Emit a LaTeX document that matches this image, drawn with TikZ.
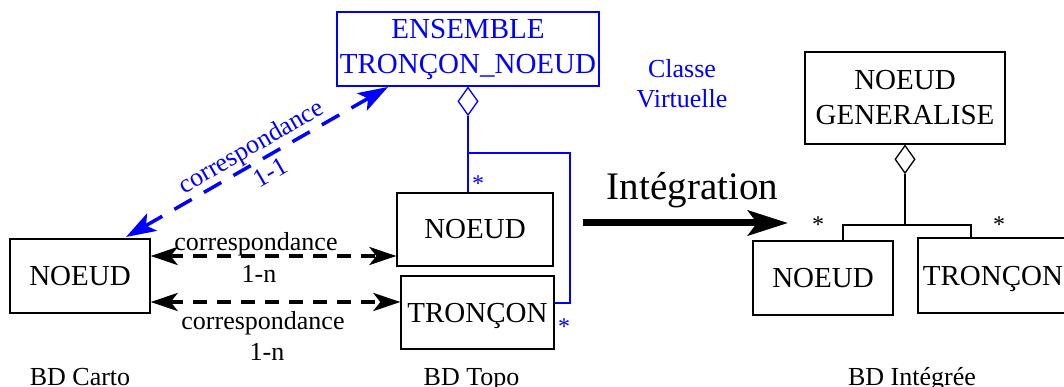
\documentclass[tikz,border=0pt]{standalone}
\usepackage{fontspec}
\setmainfont{Liberation Serif}
\usetikzlibrary{arrows.meta,shapes.geometric}
\begin{document}
\begin{tikzpicture}[x=1pt,y=-1pt,
  box/.style={draw, line width=1.3pt, inner sep=0pt, align=center, font=\fontsize{29}{35}\selectfont},
  bluebox/.style={box, draw=blue, text=blue},
  agg/.style={diamond, draw, fill=white, line width=1.3pt, minimum width=20pt, minimum height=28pt, inner sep=0pt},
  lbl/.style={inner sep=0pt, anchor=base, font=\fontsize{26}{30}\selectfont},
  astk/.style={inner sep=0pt, anchor=base, font=\fontsize{24}{28}\selectfont},
  link/.style={line width=1.3pt},
  bluelink/.style={line width=1.3pt, draw=blue},
  dashar/.style={line width=4pt, dash pattern=on 14pt off 10pt, {Stealth[length=27pt,width=18pt,inset=7pt]}-{Stealth[length=27pt,width=18pt,inset=7pt]}},
  bluedash/.style={draw=blue, line width=3.5pt, dash pattern=on 20pt off 14pt, {Stealth[length=30pt,width=20pt,inset=7pt]}-{Stealth[length=30pt,width=20pt,inset=7pt]}}
]
\useasboundingbox (0,0) rectangle (1064,387);
\clip (0,0) rectangle (1064,387);

% BD Carto
\node[box, minimum width=140pt, minimum height=74pt] (cN) at (80,276) {NOEUD};

% BD Topo
\node[box, minimum width=156pt, minimum height=73pt] (tN) at (475,229.5) {NOEUD};
\node[box, minimum width=153pt, minimum height=73pt, text depth=0pt] (tT) at (477.5,312.5) {TRONÇON};
\node[bluebox, minimum width=262pt, minimum height=74pt] (ens) at (468,49) {ENSEMBLE\\TRONÇON\_NOEUD};
\node[agg, draw=blue, anchor=north] (eD) at (ens.south) {};
\coordinate (bJ) at (570,153);
\coordinate (bK) at (570,303);
\draw[bluelink] (eD.south) -- (eD.south |- tN.north);
\draw[bluelink] (eD.south |- bJ) -- (bJ) -- (bK) -- (tT.east |- bK);
\node[astk, text=blue] (s1) at (478,192) {*};
\node[astk, text=blue] (s2) at (564,334) {*};

\node[lbl, text=blue] (cv1) at (682,78) {Classe};
\node[lbl, text=blue] (cv2) at (682,108) {Virtuelle};

% correspondances
\draw[dashar] ([yshift=20pt]cN.east) -- ([yshift=-26.5pt]tN.west);
\draw[dashar] ([yshift=-26pt]cN.east) -- ([yshift=10.5pt]tT.west);
\node[lbl] (l1) at (256,250) {correspondance};
\node[lbl] (l2) at (259,282) {1-n};
\node[lbl] (l3) at (263,329) {correspondance};
\node[lbl] (l4) at (267,360) {1-n};

\coordinate (bA) at (126,237);
\coordinate (bB) at (388,87);
\draw[bluedash] (bA) -- (bB);
\node[lbl, text=blue, rotate=30, anchor=center] (l5) at (252,148) {correspondance};
\node[lbl, text=blue, rotate=30, anchor=center] (l6) at (270,172) {1-1};

% Integration
\coordinate (aS) at (583,223);
\coordinate (aE) at (788,223);
\draw[line width=7pt, -{Stealth[length=40pt,width=25pt,inset=9pt]}] (aS) -- (aE);
\node[inner sep=0pt, anchor=base, font=\fontsize{39}{44}\selectfont] (int) at (692.5,200) {Intégration};

% BD Integree
\node[box, minimum width=200pt, minimum height=92pt] (nG) at (905,98) {NOEUD\\GENERALISE};
\node[agg, anchor=north] (gD) at (nG.south) {};
\node[box, minimum width=140pt, minimum height=74pt] (iN) at (823,278) {NOEUD};
\node[box, minimum width=150pt, minimum height=75pt, text depth=0pt] (iT) at (993,275.5) {TRONÇON};
\coordinate (gL) at (843,225);
\coordinate (gR) at (971,225);
\draw[link] (gD.south) -- (gD.south |- gL);
\draw[link] (gL |- iN.north) -- (gL) -- (gR) -- (gR |- iT.north);
\node[astk] (s3) at (818,233) {*};
\node[astk] (s4) at (999,233) {*};

% titles
\node[lbl] (t1) at (80,385) {BD Carto};
\node[lbl] (t2) at (471.5,385) {BD Topo};
\node[lbl] (t3) at (912,385) {BD Intégrée};
\end{tikzpicture}
\end{document}
